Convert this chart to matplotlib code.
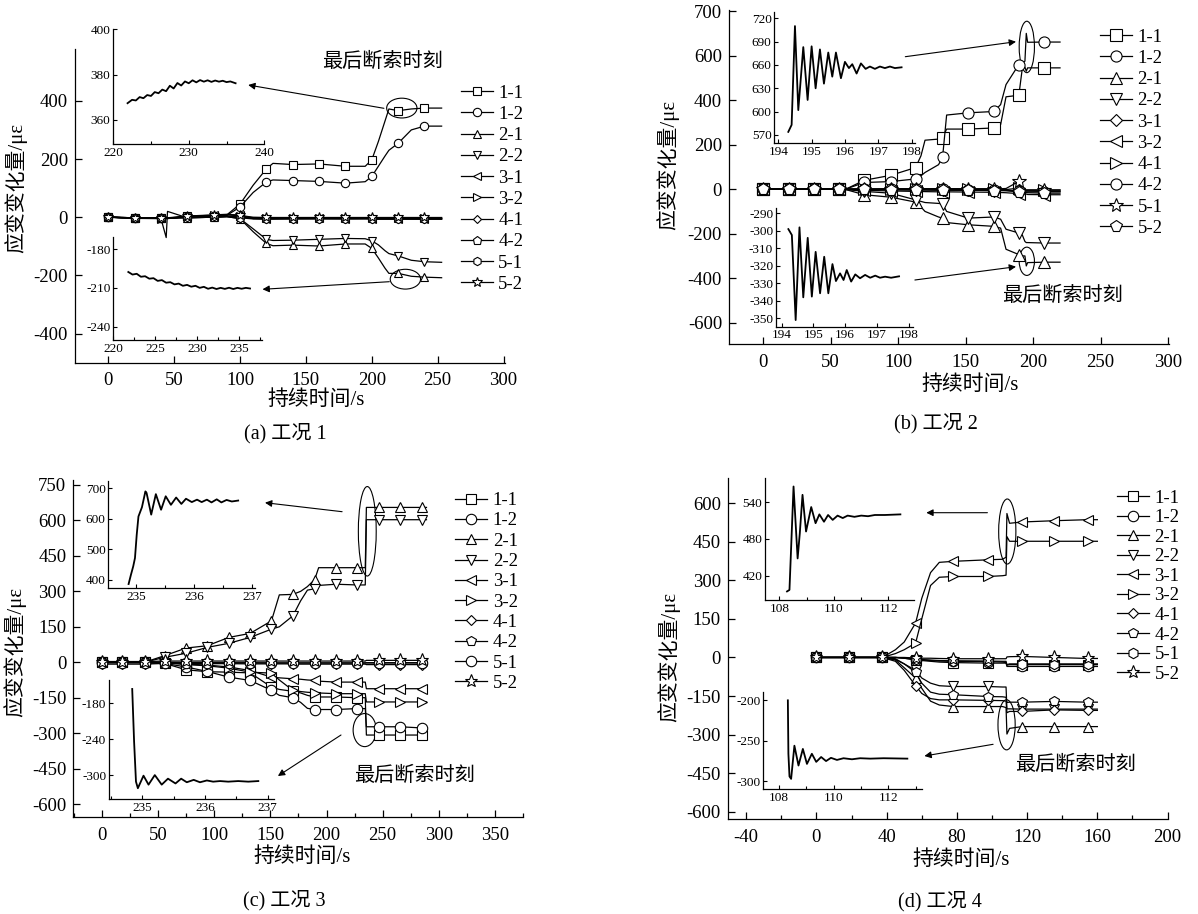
import matplotlib
matplotlib.use('Agg')
import matplotlib.pyplot as plt
from matplotlib.lines import Line2D
from matplotlib.patches import Ellipse, FancyArrowPatch
from matplotlib.ticker import MultipleLocator

plt.rcParams['font.family'] = ['Liberation Serif', 'Noto Sans CJK SC']
plt.rcParams['axes.unicode_minus'] = False
plt.rcParams['xtick.direction'] = 'in'
plt.rcParams['ytick.direction'] = 'in'
plt.rcParams['axes.linewidth'] = 0.9

W, H = 1198, 914

labels = ['1-1', '1-2', '2-1', '2-2', '3-1', '3-2', '4-1', '4-2', '5-1', '5-2']

# ---------- (a) 工况 1 ----------
t_a = [0, 20, 40, 44, 45, 60, 80, 90, 100, 110, 120, 125, 140, 160, 180, 195, 200, 205, 210, 213, 220, 230, 240, 253]
mark_a = [0, 20, 40, 60, 80, 100, 120, 140, 160, 180, 200, 220, 240]
a_11 = [0, -2, -3, -3, -3, 3, 5, 8, 45, 110, 166, 185, 181, 183, 175, 175, 197, 260, 330, 372, 366, 372, 375, 375]
a_12 = [0, -3, -4, -4, -4, 2, 4, 6, 35, 85, 121, 128, 126, 123, 117, 122, 140, 175, 210, 230, 254, 300, 313, 313]
a_21 = [0, -2, -3, -3, -3, -2, 0, 2, -5, -50, -90, -98, -96, -99, -92, -92, -107, -140, -175, -193, -193, -203, -206, -208]
a_22 = [0, -2, -3, -3, -3, -2, 0, 2, -5, -40, -76, -80, -79, -76, -73, -74, -81, -95, -115, -125, -133, -148, -153, -155]
a_31 = [0, -2, -4, -4, -4, 2, 6, 8, 8, -5, -5, -4, -5, -4, -5, -4, -5, -5, -5, -5, -5, -5, -6, -6]
a_32 = [0, -4, -5, -5, -5, 3, 7, 9, 4, -3, -3, -3, -4, -3, -4, -3, -3, -4, -4, -4, -4, -4, -4, -4]
a_41 = [0, -3, -3, -3, -3, 0, 2, 3, 0, -4, -5, -5, -5, -5, -5, -5, -5, -6, -6, -6, -6, -6, -6, -6]
a_42 = [0, -3, -4, -70, 20, -2, 0, 2, 3, -2, -2, -2, -2, -2, -2, -2, -3, -3, -3, -3, -3, -3, -3, -3]
a_51 = [0, -3, -3, -3, -3, 1, 3, 4, -2, -6, -7, -7, -6, -6, -6, -6, -6, -7, -7, -7, -7, -7, -7, -7]
a_52 = [0, -2, -2, -2, -2, 4, 8, 10, 6, 0, -1, -1, -1, -1, -1, -1, -1, -1, -1, -1, -1, -1, -1, -1]
mk_a = ['s', 'o', '^', 'v', '<', '>', 'D', 'p', 'h', '*']

a_in1_t = [221.9, 222.5, 223.0, 223.5, 224.0, 224.5, 225.0, 225.5, 226.0, 226.5, 227.0, 227.5, 228.0, 228.5, 229.0,
           229.5, 230.0, 230.5, 231.0, 231.5, 232.0, 232.5, 233.0, 233.5, 234.0, 234.5, 235.0, 235.5, 236.2]
a_in1_v = [367.4, 368.9, 368.6, 370.1, 369.6, 371.0, 370.6, 372.3, 371.8, 373.4, 372.7, 375.1, 373.9, 376.3, 375.2,
           377.0, 376.2, 377.5, 376.6, 377.6, 376.9, 377.5, 376.8, 377.4, 376.9, 377.3, 376.7, 377.0, 376.2]
a_in2_t = [221.8, 222.3, 222.8, 223.3, 223.8, 224.3, 224.8, 225.3, 225.8, 226.3, 226.8, 227.3, 227.8, 228.3, 228.8,
           229.3, 229.8, 230.3, 230.8, 231.3, 231.8, 232.3, 232.8, 233.3, 233.8, 234.3, 234.8, 235.3, 235.8, 236.3]
a_in2_v = [-197.6, -199.6, -199.0, -201.3, -200.9, -202.8, -202.4, -204.5, -203.9, -205.9, -205.5, -207.2, -206.6,
           -208.3, -207.6, -209.0, -208.3, -209.9, -209.1, -210.6, -209.7, -210.8, -209.9, -210.7, -209.8, -210.8,
           -209.9, -210.6, -209.9, -210.4]

# ---------- (b) 工况 2 ----------
t_b = [0, 19, 38, 56.5, 62, 75, 94.5, 113, 117, 120, 130, 133, 136, 152, 171, 176, 180, 189.5, 192, 194, 195, 196, 208.5, 220]
mark_b = [0, 19, 38, 56.5, 75, 94.5, 113, 133, 152, 171, 189.5, 208.5]
b_11 = [0, 0, 0, 0, 2, 40, 62, 97, 150, 220, 225, 231, 270, 270, 275, 290, 415, 422, 540, 548, 530, 545, 545, 545]
b_12 = [0, 0, 0, 0, 2, 30, 34, 46, 60, 75, 110, 143, 333, 343, 349, 380, 470, 560, 565, 575, 700, 660, 661, 661]
b_21 = [0, 0, 0, 0, -3, -25, -36, -58, -80, -100, -125, -130, -150, -160, -167, -175, -270, -294, -300, -300, -345, -330, -328, -328]
b_22 = [0, 0, 0, 0, -2, -10, -18, -48, -55, -60, -64, -66, -100, -130, -125, -135, -180, -197, -205, -235, -240, -240, -242, -242]
b_31 = [0, 0, 0, 0, 0, -2, -3, -4, -4, -4, -5, -5, -5, -5, -6, -6, -6, -8, -8, -8, -8, -8, -10, -10]
b_32 = [0, 0, 0, 0, -1, -5, -8, -10, -10, -11, -12, -12, -12, -13, -14, -15, -16, -20, -22, -22, -22, -24, -25, -25]
b_41 = [0, 0, 0, 0, 0, 0, 1, 2, 2, 2, 2, 2, 2, 1, 0, 0, -2, 5, -5, -5, -5, -5, -5, -5]
b_42 = [0, 0, 0, 0, 0, 0, 0, 0, 0, 0, 0, 0, 0, -2, -3, -4, -5, -8, -10, -10, -12, -12, -12, -12]
b_51 = [0, 0, 0, 0, 0, 1, 2, 2, 2, 2, 2, 2, 2, 2, 2, 2, 3, 35, -5, -3, -3, -3, -3, -3]
b_52 = [0, 0, 0, 0, 0, -1, -2, -3, -3, -3, -4, -4, -4, -5, -6, -6, -7, -12, -15, -15, -15, -16, -18, -18]
mk_b = ['s', 'o', '^', 'v', 'D', '<', '>', 'o', '*', 'p']

b_in1_t = [194.3, 194.4, 194.5, 194.6, 194.75, 194.88, 195.0, 195.12, 195.25, 195.37, 195.5, 195.62, 195.73, 195.88,
           196.0, 196.12, 196.22, 196.35, 196.48, 196.62, 196.75, 196.9, 197.05, 197.2, 197.35, 197.5, 197.7]
b_in1_v = [574, 583, 710, 602, 683, 615, 684, 630, 680, 636, 676, 645, 676, 643,
           664, 656, 661, 649, 662, 655, 658, 655, 658, 656, 658, 656, 657]
b_in2_t = [194.21, 194.32, 194.44, 194.56, 194.68, 194.82, 194.95, 195.07, 195.21, 195.34, 195.47, 195.6, 195.71,
           195.84, 195.95, 196.05, 196.19, 196.32, 196.47, 196.63, 196.79, 196.95, 197.1, 197.26, 197.45, 197.7]
b_in2_v = [-299, -302.4, -351, -298, -338, -304, -337.6, -312, -335.7, -314.8, -335.7, -319, -328.7,
           -324.3, -328.1, -322.4, -329, -324.9, -327.1, -325.2, -326.8, -325.6, -326.8, -326.2, -326.8, -326]

# ---------- (c) 工况 3 ----------
t_c = [0, 18, 38, 56, 75, 94, 113, 132, 151, 158, 170, 177, 183, 189.5, 193, 208.5, 227.5, 234.5, 235.5, 246.5, 265.5, 285, 289]
mark_c = [0, 18, 38, 56, 75, 94, 113, 132, 151, 170, 189.5, 208.5, 227.5, 246.5, 265.5, 285]
c_11 = [0, 0, 0, -5, -32, -40, -42, -45, -105, -115, -123, -130, -140, -147, -147, -147, -150, -150, -308, -308, -308, -308, -308]
c_12 = [0, 0, 0, -5, -20, -39, -63, -77, -119, -140, -150, -170, -195, -200, -200, -200, -196, -196, -273, -273, -273, -278, -278]
c_21 = [0, 0, 0, 28, 60, 70, 105, 122, 175, 285, 287, 300, 320, 350, 400, 400, 400, 400, 655, 655, 655, 655, 655]
c_22 = [0, 0, 0, 21, 38, 63, 80, 105, 140, 150, 196, 260, 305, 311, 325, 330, 327, 327, 603, 603, 603, 603, 603]
c_31 = [0, 0, 0, -3, -8, -12, -20, -35, -63, -66, -70, -72, -75, -77, -80, -84, -84, -84, -112, -112, -112, -112, -112]
c_32 = [0, 0, 0, 0, -10, -15, -25, -42, -46, -75, -119, -124, -127, -129, -130, -133, -133, -133, -168, -168, -168, -168, -168]
c_41 = [-8, -8, -8, -5, -5, -6, -6, -7, -7, -7, -7, -8, -8, -8, -8, -8, -8, -8, -10, -10, -10, -10, -10]
c_42 = [0, 0, 0, 0, -2, -2, -3, -3, -3, -3, -3, -3, -3, -3, -3, -3, -3, -3, -3, -3, -3, -3, -3]
c_51 = [-3, -3, -3, -3, -2, -2, -2, -2, -3, -3, -3, -3, -3, -3, -3, -3, -3, -3, -2, -2, -2, -2, -2]
c_52 = [3, 3, 3, 5, 5, 5, 5, 5, 5, 5, 5, 5, 5, 5, 5, 5, 5, 5, 8, 8, 8, 8, 8]
mk_c = ['s', 'o', '^', 'v', '<', '>', 'D', 'p', 'o', '*']

c_in1_t = [234.87, 234.91, 234.95, 234.98, 235.01, 235.04, 235.1, 235.16, 235.18, 235.26, 235.34, 235.43, 235.51,
           235.6, 235.69, 235.78, 235.86, 235.96, 236.05, 236.13, 236.22, 236.3, 236.39, 236.47, 236.56, 236.65, 236.76]
c_in1_v = [386, 416, 444, 471, 547, 607, 637, 689, 684, 613, 680, 629, 673,
           645, 669, 648, 665, 654, 662, 654, 662, 653, 663, 653, 661, 656, 659]
c_in2_t = [234.84, 234.87, 234.90, 234.93, 235.02, 235.1, 235.2, 235.31, 235.41, 235.53, 235.62, 235.71, 235.82,
           235.92, 236.03, 236.13, 236.24, 236.37, 236.53, 236.69, 236.85]
c_in2_v = [-156, -244, -311, -322, -301, -316, -300, -316, -306, -314, -306, -312, -308,
           -312, -309, -311, -310, -311, -310, -311, -310]

# ---------- (d) 工况 4 ----------
t_d = [0, 18.5, 37.5, 45, 50, 56.5, 60, 65, 70, 78, 98, 106, 108, 108.5, 110, 117, 135.5, 154.5, 160]
mark_d = [0, 18.5, 37.5, 56.5, 78, 98, 117, 135.5, 154.5]
d_11 = [0, 0, 0, 0, -3, -10, -12, -15, -18, -20, -22, -22, -22, -30, -28, -28, -28, -28, -28]
d_12 = [0, 0, 0, 0, -3, -8, -10, -12, -14, -15, -16, -18, -20, -35, -35, -35, -35, -35, -35]
d_21 = [0, 0, 0, -10, -40, -80, -120, -170, -185, -191, -191, -191, -195, -298, -276, -269, -269, -269, -269]
d_22 = [0, 0, 0, -8, -25, -50, -80, -100, -110, -113, -113, -115, -115, -200, -200, -201, -201, -201, -201]
d_31 = [0, 0, 0, 30, 60, 134, 230, 330, 370, 374, 380, 382, 390, 560, 522, 527, 532, 536, 536]
d_32 = [0, 0, 0, 15, 30, 56, 150, 280, 312, 315, 315, 318, 320, 470, 452, 452, 452, 452, 452]
d_41 = [0, 0, 0, -15, -50, -110, -140, -160, -165, -165, -167, -168, -170, -215, -210, -210, -204, -206, -206]
d_42 = [0, 0, 0, -5, -25, -58, -100, -135, -143, -145, -152, -153, -155, -175, -174, -174, -171, -174, -174]
d_51 = [0, 0, 0, 0, -2, -5, -8, -10, -12, -13, -14, -15, -15, -28, -25, -25, -25, -25, -25]
d_52 = [0, 0, 0, 0, 0, -2, -3, -3, -4, -5, -5, -5, -5, 2, 3, 4, 0, -4, -4]
mk_d = ['s', 'o', '^', 'v', '<', '>', 'D', 'p', 'h', '*']

d_in1_t = [108.28, 108.37, 108.52, 108.67, 108.75, 108.85, 108.98, 109.17, 109.33, 109.47, 109.64, 109.79, 109.96,
           110.14, 110.33, 110.51, 110.76, 111.01, 111.26, 111.51, 111.88, 112.45]
d_in1_v = [394, 396.5, 565.6, 448, 489, 552, 492, 532, 505.6, 520, 508, 519, 511,
           518, 514, 518, 516, 518, 517, 519, 519, 520]
d_in2_t = [108.32, 108.34, 108.38, 108.44, 108.56, 108.71, 108.87, 109.02, 109.2, 109.36, 109.54, 109.72, 109.9,
           110.12, 110.36, 110.67, 110.97, 111.34, 111.83, 112.7]
d_in2_v = [-200, -266, -294, -297, -256, -280.5, -260, -278.5, -266, -276, -270, -275, -271,
           -273.6, -271.5, -272.8, -271.5, -272, -271.5, -272]

SIZE_FIX = {'D': 0.72, '*': 1.3, 'p': 1.05, 'h': 1.0}

fig = plt.figure(figsize=(W / 100, H / 100), dpi=100)


def box(x0, y0, x1, y1):
    # pixel box (top-left origin) -> figure fraction rect
    return [x0 / W, 1 - y1 / H, (x1 - x0) / W, (y1 - y0) / H]


def fp(x, y):
    return (x / W, 1 - y / H)


def clean(ax):
    for s in ('top', 'right'):
        ax.spines[s].set_visible(False)


def main_panel(rect, t, marks, series, markers, ms, xlim, ylim, leg_xy, leg_space):
    ax = fig.add_axes(box(*rect), facecolor='none')
    clean(ax)
    idx = [t.index(m) for m in marks]
    for vals, mk in zip(series, markers):
        ax.plot(t, vals, color='k', lw=0.9, marker=mk, ms=ms * SIZE_FIX.get(mk, 1.0),
                mfc='white', mec='k', mew=0.8, markevery=idx)
    ax.set_xlim(*xlim)
    ax.set_ylim(*ylim)
    ax.tick_params(labelsize=13.5, length=5, width=0.9)
    ax.tick_params(axis='y', pad=5)
    ax.tick_params(axis='x', pad=7)
    ax.tick_params(which='minor', length=3, width=0.9)
    handles = [Line2D([], [], color='k', lw=0.9, marker=m, ms=ms * SIZE_FIX.get(m, 1.0),
                      mfc='white', mec='k', mew=0.8) for m in markers]
    ax.legend(handles, labels, loc='upper left', bbox_to_anchor=fp(*leg_xy),
              bbox_transform=fig.transFigure, frameon=False, fontsize=13.5,
              handlelength=1.7, handletextpad=0.3, labelspacing=leg_space,
              borderpad=0, borderaxespad=0, numpoints=1)
    return ax


def inset(rect, t, v, xlim, ylim, xticks, yticks, xminor=None):
    ax = fig.add_axes(box(*rect), facecolor='none')
    clean(ax)
    ax.plot(t, v, color='k', lw=1.3)
    ax.set_xlim(*xlim)
    ax.set_ylim(*ylim)
    ax.set_xticks(xticks)
    ax.set_yticks(yticks)
    if xminor:
        ax.xaxis.set_minor_locator(MultipleLocator(xminor))
    ax.tick_params(labelsize=9.5, length=3, width=0.8, pad=2)
    ax.tick_params(which='minor', length=2, width=0.8)
    return ax


def arrow(tail, head):
    fig.add_artist(FancyArrowPatch(fp(*tail), fp(*head), transform=fig.transFigure,
                                   arrowstyle='-|>', mutation_scale=10, lw=0.8, color='k',
                                   shrinkA=0, shrinkB=0))


def ring(ax, cx, cy, w, h):
    ax.add_patch(Ellipse((cx, cy), w, h, fill=False, ec='k', lw=0.8))


def words(xlab, ylab, cap, note):
    fig.text(*fp(*xlab), '持续时间/s', ha='center', va='center', fontsize=15)
    fig.text(*fp(*ylab), '应变变化量/με', ha='center', va='center', rotation=90, fontsize=15)
    fig.text(*fp(*cap[0]), cap[1], ha='center', va='center', fontsize=14.5)
    fig.text(*fp(*note), '最后断索时刻', ha='center', va='center', fontsize=14.5)


# (a)
ax = main_panel((75, 49.3, 505.4, 362.7), t_a, mark_a,
                [a_11, a_12, a_21, a_22, a_31, a_32, a_41, a_42, a_51, a_52], mk_a, 6,
                (-25.2, 301.4), (-500, 577), (460.7, 84.5), 0.22)
ax.set_xticks(range(0, 301, 50))
ax.set_yticks(range(-400, 401, 200))
ring(ax, 222.8, 375, 23, 68)
ring(ax, 225.5, -213, 23, 68)
inset((113.2, 29.3, 264.3, 144), a_in1_t, a_in1_v, (220, 240), (349.4, 400), [220, 230, 240], [360, 380, 400], 5)
inset((113.2, 237, 261.8, 340), a_in2_t, a_in2_v, (220, 237.7), (-250.3, -170.5), [220, 225, 230, 235], [-240, -210, -180], 2.5)
arrow((383.9, 108.3), (248.2, 85))
arrow((389.3, 281.7), (262.5, 289.3))
words((316, 400), (16, 188), [(285, 433), '(a) 工况 1'], (382, 62))

# (b)
ax = main_panel((729, 10, 1168.7, 344.3), t_b, mark_b,
                [b_11, b_12, b_21, b_22, b_31, b_32, b_41, b_42, b_51, b_52], mk_b, 8,
                (-25.2, 300.5), (-697, 805), (1100, 28.5), 0.22)
ax.set_xticks(range(0, 301, 50))
ax.set_yticks([-600, -400, -200, 0, 200, 400, 600, 800])
ax.set_yticklabels(['-600', '-400', '-200', '0', '200', '400', '600', '700'])
ring(ax, 195.4, 639, 11.3, 231)
ring(ax, 195.4, -324, 11.3, 127)
inset((774.3, 11.7, 914.9, 143.3), b_in1_t, b_in1_v, (193.88, 198.1), (559.3, 728.5),
      [194, 195, 196, 197, 198], [570, 600, 630, 660, 690, 720])
inset((776, 208.3, 913, 326.7), b_in2_t, b_in2_v, (193.82, 198.14), (-354.8, -287.1),
      [194, 195, 196, 197, 198], [-350, -340, -330, -320, -310, -300, -290])
arrow((905.3, 56.7), (1016, 41.7))
arrow((914.9, 280), (1016, 266.7))
words((970, 385), (668, 165), [(936, 423), '(b) 工况 2'], (1062.6, 296.7))

# (c)
ax = main_panel((73.3, 480, 523.2, 817.3), t_c, mark_c,
                [c_11, c_12, c_21, c_22, c_31, c_32, c_41, c_42, c_51, c_52], mk_c, 7.5,
                (-25.4, 375.1), (-656, 771), (455.4, 492), 0.17)
ax.set_xticks(range(0, 351, 50))
ax.xaxis.set_minor_locator(MultipleLocator(25))
ax.set_yticks(range(-600, 751, 150))
ring(ax, 236.3, 554, 15.9, 378.5)
ring(ax, 234, -287, 20.6, 140)
inset((108.3, 481.3, 255, 588), c_in1_t, c_in1_v, (234.52, 237.05), (373, 722), [235, 236, 237], [400, 500, 600, 700], 0.5)
inset((109, 680, 274, 799), c_in2_t, c_in2_v, (234.47, 237.1), (-340, -141), [235, 236, 237], [-300, -240, -180], 0.5)
arrow((342.1, 511.7), (265, 502.7))
arrow((341, 735), (277.9, 776))
words((301.8, 856.7), (14.3, 651.7), [(284, 900), '(c) 工况 3'], (414.3, 776.7))

# (d)
ax = main_panel((727.9, 478.3, 1167.6, 819), t_d, mark_d,
                [d_11, d_12, d_21, d_22, d_31, d_32, d_41, d_42, d_51, d_52], mk_d, 7.5,
                (-50.4, 200), (-628.5, 697), (1117, 489.5), 0.13)
ax.set_xticks(range(-40, 201, 40))
ax.xaxis.set_minor_locator(MultipleLocator(20))
ax.set_yticks(range(-600, 601, 150))
ring(ax, 108.7, 490, 9.8, 253)
ring(ax, 108.3, -262, 9.8, 195)
inset((765, 478.3, 913.7, 600), d_in1_t, d_in1_v, (107.47, 112.94), (380, 579), [108, 110, 112], [420, 480, 540], 1)
inset((763.3, 692, 921.8, 789), d_in2_t, d_in2_v, (107.42, 113.23), (-309.5, -189.7), [108, 110, 112], [-300, -250, -200], 1)
arrow((987.4, 512.7), (926.3, 512.7))
arrow((993.1, 744.3), (924.4, 756))
words((960.7, 860), (668.7, 656.7), [(939.7, 901.7), '(d) 工况 4'], (1075.2, 765))

fig.savefig('out.png', dpi=100)
